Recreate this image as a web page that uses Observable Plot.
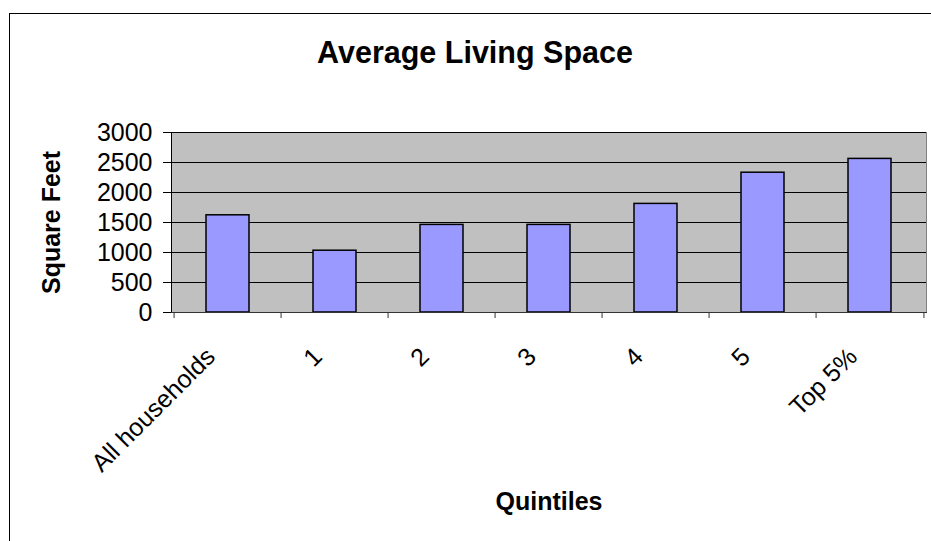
<!DOCTYPE html>
<html><head><meta charset="utf-8">
<script src="https://cdn.jsdelivr.net/npm/d3@7"></script>
<script src="https://cdn.jsdelivr.net/npm/@observablehq/plot@0.6"></script>
<style>
html,body{margin:0;padding:0;background:#fff;overflow:hidden;width:931px;height:541px;}
#wrap{position:relative;width:931px;height:541px;font-family:"Liberation Sans",Arial,sans-serif;}
#border{position:absolute;left:9px;top:13px;width:960px;height:560px;border:1px solid #000;box-sizing:border-box;pointer-events:none;}
#title{height:80px;box-sizing:border-box;padding-top:37px;padding-left:19px;text-align:center;font-weight:bold;font-size:30.5px;line-height:30px;color:#000;}
svg{display:block}
g[aria-label="y-axis label"] text, g[aria-label="x-axis label"] text{font-weight:bold;font-size:25px;}
</style></head>
<body><div id="wrap"><div id="border"></div><div id="title">Average Living Space</div><div id="chart"></div></div>
<script>
const categories = ["All households", "1", "2", "3", "4", "5", "Top 5%"];
const values = [1620, 1030, 1460, 1460, 1810, 2330, 2560];
const yTicks = [0, 500, 1000, 1500, 2000, 2500, 3000];
const data = categories.map((c, i) => ({category: c, value: values[i]}));

const width = 931, height = 461, mL = 171, mR = 5, mT = 52, mB = 229;
const step = (width - mL - mR) / categories.length;

const chart = Plot.plot({
  width, height, marginLeft: mL, marginRight: mR, marginTop: mT, marginBottom: mB,
  style: {fontFamily: '"Liberation Sans", Arial, sans-serif', fontSize: "25px", color: "#000", background: "transparent", overflow: "visible"},
  x: {domain: categories, paddingInner: 0.6, paddingOuter: 0.3},
  y: {domain: [0, 3000]},
  marks: [
    Plot.frame({fill: "#c0c0c0", stroke: "#808080"}),
    Plot.gridY(yTicks.filter(d => d > 0), {stroke: "#000", strokeOpacity: 1}),
    Plot.barY(data, {x: "category", y: "value", fill: "#9999ff", stroke: "#000", strokeWidth: 1.5}),
    Plot.frame({anchor: "left", stroke: "#000"}),
    Plot.frame({anchor: "bottom", stroke: "#333"}),
    Plot.axisY({ticks: yTicks, tickFormat: d3.format("d"), tickSize: 8, tickPadding: 11, fontSize: 25, stroke: "#000", label: "Square Feet", labelArrow: "none", labelAnchor: "center", labelOffset: 129}),
    Plot.axisX({tickSize: 0, tickPadding: 40, tickRotate: -45, dx: -17, fontSize: 25, label: "Quintiles", labelArrow: "none", labelAnchor: "center", labelOffset: 197}),
    Plot.axisX({tickSize: 6, dx: -step / 2, tickFormat: () => "", stroke: "#333", label: null}),
    Plot.axisX({ticks: [categories[categories.length - 1]], tickSize: 6, dx: step / 2, tickFormat: () => "", stroke: "#333", label: null})
  ]
});
document.getElementById("chart").appendChild(chart);
</script>
</body></html>
